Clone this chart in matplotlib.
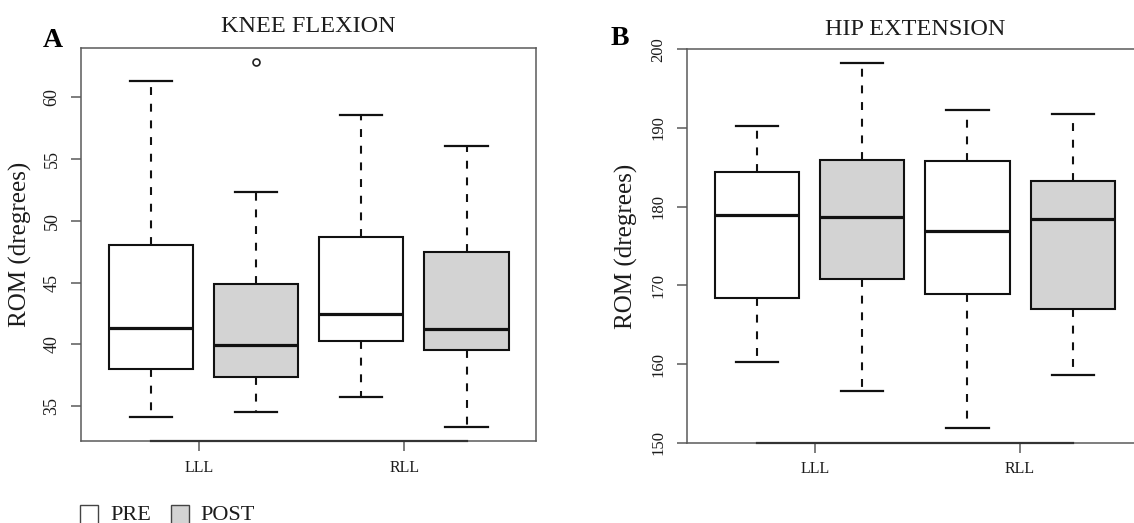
import numpy as np
import matplotlib
matplotlib.use("Agg")
import matplotlib.pyplot as plt
from matplotlib.patches import Rectangle
import matplotlib.transforms as mtransforms

plt.rcParams['font.family'] = ['Liberation Serif', 'DejaVu Serif']

# --- data (box order: PRE LLL, POST LLL, PRE RLL, POST RLL) ---
categories = ["LLL", "RLL"]
groups = ["PRE", "POST"]

knee_whislo = [34.14, 34.52, 35.73, 33.33]
knee_q1 = [37.99, 37.34, 40.28, 39.55]
knee_med = [41.33, 39.93, 42.46, 41.20]
knee_q3 = [48.07, 44.86, 48.69, 47.45]
knee_whishi = [61.32, 52.32, 58.60, 56.09]
knee_fliers = [[], [62.83], [], []]

hip_whislo = [160.25, 156.53, 151.91, 158.56]
hip_q1 = [168.43, 170.85, 168.90, 166.95]
hip_med = [178.98, 178.69, 176.95, 178.43]
hip_q3 = [184.36, 185.93, 185.85, 183.31]
hip_whishi = [190.30, 198.31, 192.25, 191.74]
hip_fliers = [[], [], [], []]

knee_yticks = [35, 40, 45, 50, 55, 60]
hip_yticks = [150, 160, 170, 180, 190, 200]

FILL = ["white", "#d3d3d3"]
FRAME = "#5a5a5a"
TXT = "#1c1c1c"
W, H = 1134, 523


def make_stats(lo, q1, med, q3, hi, fliers):
    return [dict(whislo=a, q1=b, med=c, q3=d, whishi=e, fliers=f)
            for a, b, c, d, e, f in zip(lo, q1, med, q3, hi, fliers)]


def draw_panel(ax, stats, title, title_pad, xticks, yticks, ylim, ytick_size, ylab_pad):
    positions = [1, 2, 3, 4]
    bp = ax.bxp(stats, positions=positions, widths=0.8, patch_artist=True,
                boxprops=dict(edgecolor="#111111", linewidth=1.5),
                medianprops=dict(color="#111111", linewidth=2.3, solid_capstyle="butt"),
                whiskerprops=dict(color="#111111", linewidth=1.5, linestyle=(0, (3.8, 4.2))),
                capprops=dict(color="#111111", linewidth=1.6),
                capwidths=0.4,
                flierprops=dict(marker="o", markerfacecolor="none", markeredgecolor="#222222",
                                markersize=5, markeredgewidth=1.2))
    for i, patch in enumerate(bp["boxes"]):
        patch.set_facecolor(FILL[i % 2])

    ax.set_xlim(0.34, 4.66)
    ax.set_ylim(*ylim)
    for sp in ax.spines.values():
        sp.set_color(FRAME)
        sp.set_linewidth(1.1)

    # darker axis line from first to last box
    trans = mtransforms.blended_transform_factory(ax.transData, ax.transAxes)
    ax.plot([positions[0], positions[-1]], [0, 0], color="#333333", lw=1.6,
            transform=trans, clip_on=False, zorder=5)

    ax.set_xticks(xticks)
    ax.set_xticklabels(categories)
    ax.set_yticks(yticks)
    ax.tick_params(axis="x", length=7, width=1.1, color=FRAME, pad=6.5,
                   labelsize=11.5, labelcolor=TXT)
    ax.tick_params(axis="y", length=7, width=1.1, color=FRAME, pad=8,
                   labelsize=ytick_size, labelcolor=TXT, labelrotation=90)
    for lab in ax.get_yticklabels():
        lab.set_va("center")

    ax.set_ylabel("ROM (dregrees)", fontsize=18, color=TXT, labelpad=ylab_pad)
    ax.set_title(title, fontsize=17.5, color=TXT, pad=title_pad)


fig = plt.figure(figsize=(W / 100, H / 100), dpi=100)

axA = fig.add_axes([81.3 / W, 1 - 441.3 / H, 454.7 / W, 393.6 / H])
axB = fig.add_axes([687.3 / W, 1 - 442.7 / H, 455.0 / W, 393.4 / H])

knee_stats = make_stats(knee_whislo, knee_q1, knee_med, knee_q3, knee_whishi, knee_fliers)
hip_stats = make_stats(hip_whislo, hip_q1, hip_med, hip_q3, hip_whishi, hip_fliers)

k_lo = min(knee_whislo + sum(knee_fliers, []))
k_hi = max(knee_whishi + sum(knee_fliers, []))
k_pad = 0.04 * (k_hi - k_lo)

draw_panel(axA, knee_stats, "KNEE FLEXION", 11.5, [1.457, 3.41], knee_yticks,
           (k_lo - k_pad, k_hi + k_pad), 13, 8)
draw_panel(axB, hip_stats, "HIP EXTENSION", 10.3, [1.55, 3.5], hip_yticks,
           (150, 200), 12, 9)

# panel letters
fig.text(42.7 / W, 1 - 46.7 / H, "A", fontsize=20, fontweight="bold", color="black",
         va="baseline", ha="left")
fig.text(611 / W, 1 - 45 / H, "B", fontsize=20, fontweight="bold", color="black",
         va="baseline", ha="left")

# legend along the bottom edge
leg_x = [80, 171]
txt_x = [110, 200]
for i, g in enumerate(groups):
    fig.patches.append(Rectangle((leg_x[i] / W, 1 - 525 / H), 18 / W, 20 / H,
                                 transform=fig.transFigure, facecolor=FILL[i],
                                 edgecolor="#444444", linewidth=1.0))
    fig.text(txt_x[i] / W, 1 - 506 / H, g, fontsize=16, color=TXT, va="top", ha="left")

fig.savefig("out.png", dpi=100)
